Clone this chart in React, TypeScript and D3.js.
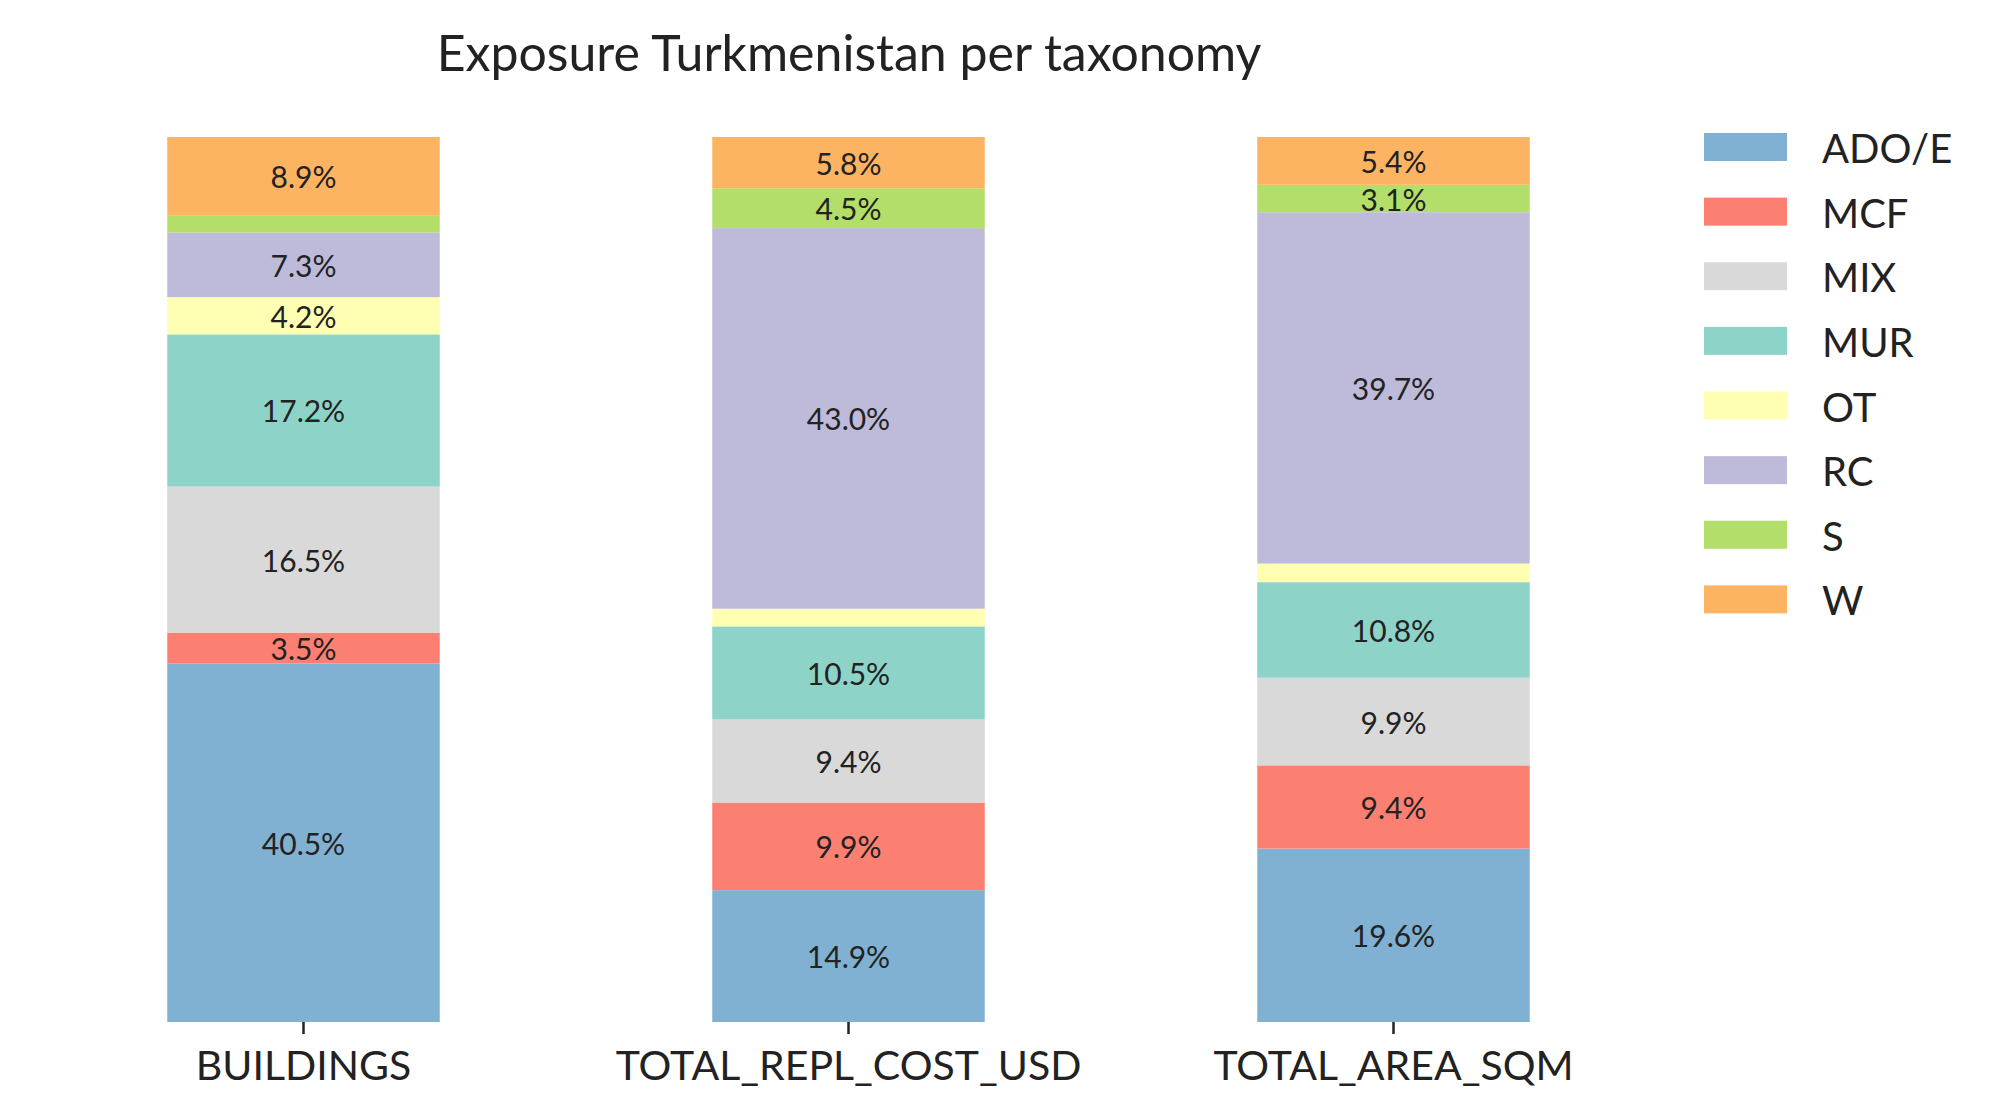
import React from 'react';
import * as d3 from 'd3';

const categories = ['BUILDINGS', 'TOTAL_REPL_COST_USD', 'TOTAL_AREA_SQM'];
const taxonomies = ['ADO/E', 'MCF', 'MIX', 'MUR', 'OT', 'RC', 'S', 'W'];
const colors = ['#80b1d3', '#fb8072', '#d9d9d9', '#8dd3c7', '#ffffb3', '#bebada', '#b3de69', '#fdb462'];
// percentage per taxonomy, one array per category
const buildings = [40.5, 3.5, 16.5, 17.2, 4.2, 7.3, 1.9, 8.9];
const replCost = [14.9, 9.9, 9.4, 10.5, 2.0, 43.0, 4.5, 5.8];
const areaSqm = [19.6, 9.4, 9.9, 10.8, 2.1, 39.7, 3.1, 5.4];
const series = [buildings, replCost, areaSqm];

const W = 1992, H = 1119;
const font = 'Lato, "Noto Sans", sans-serif';

export default function App() {
  const x = d3.scaleBand().domain(categories).range([31, 1666]).paddingInner(0.5).paddingOuter(0.25);
  const y = d3.scaleLinear().domain([0, 100]).range([1022, 137]);
  const leg = d3.scaleBand().domain(taxonomies).range([133, 650]);
  return (
    <svg width={W} height={H} style={{ position: 'absolute', left: 0, top: 0, background: '#fff' }} fontFamily={font}>
      <text x={849} y={58} fontSize={50} textAnchor="middle" dominantBaseline="middle" fill="#222">Exposure Turkmenistan per taxonomy</text>
      {categories.map((c, ci) => {
        let acc = 0;
        return (
          <g key={c}>
            {series[ci].map((v, ti) => {
              const y0 = acc; acc += v;
              const top = y(acc), bot = y(y0);
              return (
                <g key={ti}>
                  <rect x={x(c)} width={x.bandwidth()} y={top} height={bot - top} fill={colors[ti]} />
                  {v >= 3 && (
                    <text x={x(c)! + x.bandwidth() / 2} y={(top + bot) / 2} fontSize={30} textAnchor="middle" dominantBaseline="central" fill="#222">{v.toFixed(1)}%</text>
                  )}
                </g>
              );
            })}
            <line x1={x(c)! + x.bandwidth() / 2} x2={x(c)! + x.bandwidth() / 2} y1={1022} y2={1034} stroke="#222" strokeWidth={2.5} />
            <text x={x(c)! + x.bandwidth() / 2} y={1070} fontSize={41} textAnchor="middle" dominantBaseline="middle" fill="#222">{c}</text>
          </g>
        );
      })}
      {taxonomies.map((t, i) => (
        <g key={t}>
          <rect x={1704} y={leg(t)!} width={83} height={28} fill={colors[i]} />
          <text x={1822} y={leg(t)! + 15} fontSize={40} dominantBaseline="central" fill="#222">{t}</text>
        </g>
      ))}
    </svg>
  );
}
